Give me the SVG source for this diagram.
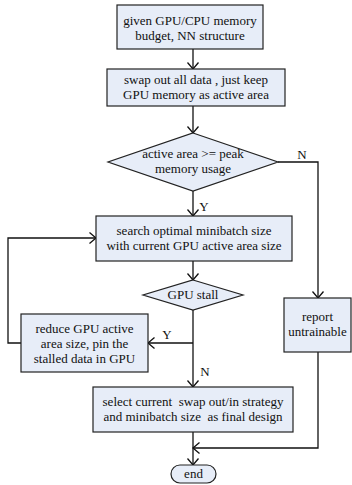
<svg xmlns="http://www.w3.org/2000/svg" width="352" height="485" viewBox="0 0 352 485">
<style>
.n{fill:#e7edf8;stroke:#222;stroke-width:1.2}
.c{fill:none;stroke:#111;stroke-width:1.3}
text{font-family:"Liberation Serif","Times New Roman",serif;font-size:13px;fill:#111;text-anchor:middle}
</style>
<defs>
<marker id="a" markerUnits="userSpaceOnUse" markerWidth="12" markerHeight="14" refX="7" refY="6" orient="auto">
<path d="M0.5,0.5 L7,6 L0.5,11.5" fill="none" stroke="#111" stroke-width="1.3"/>
</marker>
</defs>
<rect width="352" height="485" fill="#fff"/>
<g id="connectors">
<path class="c" d="M193,49 V69" marker-end="url(#a)"/>
<path class="c" d="M193,106 V133" marker-end="url(#a)"/>
<path class="c" d="M193,191 V216" marker-end="url(#a)"/>
<path class="c" d="M193,261 V280" marker-end="url(#a)"/>
<path class="c" d="M193,310 V387" marker-end="url(#a)"/>
<path class="c" d="M193,343 H148" marker-end="url(#a)"/>
<path class="c" d="M21,343 H8 V238 H96" marker-end="url(#a)"/>
<path class="c" d="M278,162 H318 V298" marker-end="url(#a)"/>
<path class="c" d="M318,352 V448 H193" marker-end="url(#a)"/>
<path class="c" d="M193,432 V465" marker-end="url(#a)"/>
<text x="302" y="159">N</text>
<text x="204" y="211">Y</text>
<text x="167" y="339">Y</text>
<text x="205" y="376">N</text>
</g>
<g id="start">
<rect class="n" x="117" y="5" width="146" height="44"/>
<text x="190" y="25">given GPU/CPU memory</text>
<text x="190" y="40">budget, NN structure</text>
</g>
<g id="swapout">
<rect class="n" x="107" y="69" width="178" height="37"/>
<text x="196" y="84">swap out all data , just keep</text>
<text x="196" y="99">GPU memory as active area</text>
</g>
<g id="check">
<path class="n" d="M193,133 L278,162 L193,191 L108,162 Z"/>
<text x="193" y="158">active area &gt;= peak</text>
<text x="193" y="173">memory usage</text>
</g>
<g id="search">
<rect class="n" x="96" y="216" width="196" height="45"/>
<text x="194" y="235">search optimal minibatch size</text>
<text x="194" y="250">with current GPU active area size</text>
</g>
<g id="stall">
<path class="n" d="M193,280 L243,295 L193,310 L143,295 Z"/>
<text x="193" y="299">GPU stall</text>
</g>
<g id="reduce">
<rect class="n" x="21" y="314" width="127" height="58"/>
<text x="84.5" y="333">reduce GPU active</text>
<text x="84.5" y="348">area size, pin the</text>
<text x="84.5" y="363">stalled data in GPU</text>
</g>
<g id="report">
<rect class="n" x="284" y="298" width="67" height="54"/>
<text x="317.5" y="321">report</text>
<text x="317.5" y="336">untrainable</text>
</g>
<g id="select">
<rect class="n" x="93" y="387" width="200" height="45"/>
<text x="193" y="406" xml:space="preserve">select current  swap out/in strategy</text>
<text x="193" y="421" xml:space="preserve">and minibatch size  as final design</text>
</g>
<g id="end">
<rect class="n" x="171" y="465" width="45" height="18" rx="9"/>
<text x="193.5" y="478">end</text>
</g>
</svg>
